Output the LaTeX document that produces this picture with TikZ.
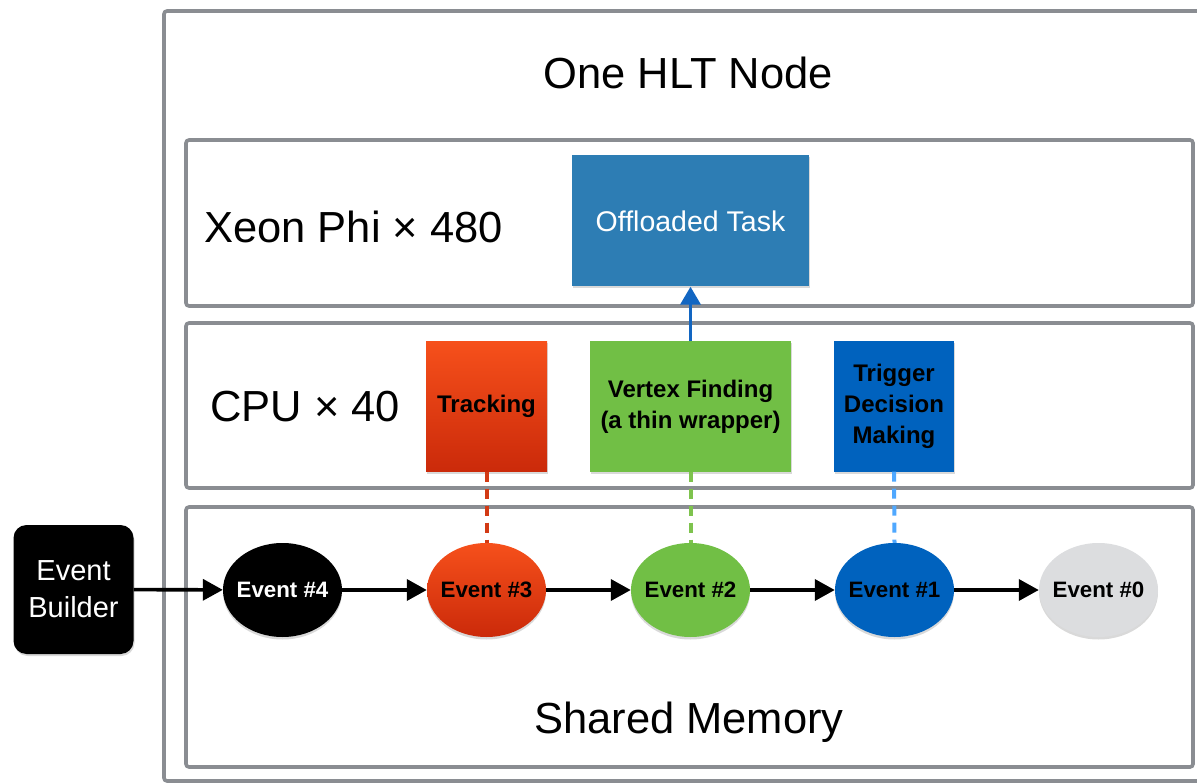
\documentclass[tikz,border=0pt]{standalone}
\usepackage{fontspec}
\setmainfont{Liberation Sans}
\usetikzlibrary{arrows.meta,shapes.geometric,shadows}
\definecolor{framegray}{HTML}{8A8D92}
\definecolor{offblue}{HTML}{2D7DB4}
\definecolor{trkTop}{HTML}{F6501B}
\definecolor{trkBot}{HTML}{CB2A0A}
\definecolor{vfgreen}{HTML}{71BF45}
\definecolor{trgblue}{HTML}{0062BE}
\definecolor{arrblue}{HTML}{1266C2}
\definecolor{dashred}{HTML}{D23A14}
\definecolor{dashgreen}{HTML}{7EC34E}
\definecolor{dashblue}{HTML}{4FA8FF}
\definecolor{evgray}{HTML}{DCDDDF}
\begin{document}
\begin{tikzpicture}[x=1pt,y=-1pt,
  frame/.style={draw=framegray,line width=3.6pt,rounded corners=3pt},
  bigtext/.style={font=\fontsize{43.5}{48}\selectfont,inner sep=0pt},
  taskbox/.style={rectangle,minimum height=130pt,inner sep=0pt,align=center,
    font=\fontsize{24}{31}\selectfont\bfseries,
    drop shadow={shadow xshift=1pt,shadow yshift=-2pt,opacity=0.3}},
  event/.style={ellipse,minimum width=119pt,minimum height=94pt,inner xsep=-14pt,inner ysep=0pt,
    font=\fontsize{22.3}{26}\selectfont\bfseries,
    drop shadow={shadow xshift=0pt,shadow yshift=-2.5pt,opacity=0.3}},
  flow/.style={line width=3.6pt,-{Triangle[length=20pt,width=21pt]}},
  link/.style={line width=4pt,dash pattern=on 10pt off 7pt}]
\useasboundingbox (0,0) rectangle (1197,783);
% frames
\draw[frame] (164,11) rectangle (1215,781);
\draw[frame] (186,140) rectangle (1193,306);
\draw[frame] (186,323) rectangle (1193,488);
\draw[frame] (186,507) rectangle (1193,767);
% titles
\node[bigtext] (title) at (688,73) {One HLT Node};
\node[bigtext,anchor=west] (xeon) at (204,227) {Xeon Phi × 480};
\node[bigtext,anchor=west] (cpu) at (210,407) {CPU × 40};
\node[bigtext] (shm) at (689,722) {Shared Memory};
% offloaded task
\node[rectangle,fill=offblue,minimum width=237pt,minimum height=131pt,inner sep=0pt,
  text=white,font=\fontsize{28.5}{32}\selectfont,
  drop shadow={shadow xshift=1pt,shadow yshift=-2pt,opacity=0.3}] (off) at (690.5,221) {Offloaded Task};
% CPU tasks
\node[taskbox,minimum width=121pt,top color=trkTop,bottom color=trkBot] (trk) at (486.5,406.5) {Tracking};
\node[taskbox,minimum width=201pt,fill=vfgreen] (vf) at (690.5,406.5) {Vertex Finding\\(a thin wrapper)};
\node[taskbox,minimum width=120pt,fill=trgblue] (trg) at (894,406.5) {Trigger\\Decision\\Making};
% event builder
\node[rectangle,rounded corners=13pt,fill=black,minimum width=120pt,minimum height=129pt,
  inner sep=0pt,align=center,text=white,font=\fontsize{29}{37}\selectfont,
  drop shadow={shadow xshift=1pt,shadow yshift=-2pt,opacity=0.3}] (eb) at (73.5,589.5) {Event\\Builder};
% events
\node[event,fill=black,text=white] (e4) at (282.5,590) {Event \#4};
\node[event,top color=trkTop,bottom color=trkBot] (e3) at (486.5,590) {Event \#3};
\node[event,fill=vfgreen] (e2) at (690.5,590) {Event \#2};
\node[event,fill=trgblue] (e1) at (894.5,590) {Event \#1};
\node[event,fill=evgray] (e0) at (1098.5,590) {Event \#0};
% connectors
\draw[flow] (eb) -- (e4);
\draw[flow] (e4) -- (e3);
\draw[flow] (e3) -- (e2);
\draw[flow] (e2) -- (e1);
\draw[flow] (e1) -- (e0);
\draw[link,dashred] (trk.south) -- (e3.north);
\draw[link,dashgreen] (vf.south) -- (e2.north);
\draw[link,dashblue] (trg.south) -- (e1.north);
\draw[line width=3.6pt,arrblue,-{Triangle[length=18pt,width=20pt]}] (vf.north) -- (off.south);
\end{tikzpicture}
\end{document}
